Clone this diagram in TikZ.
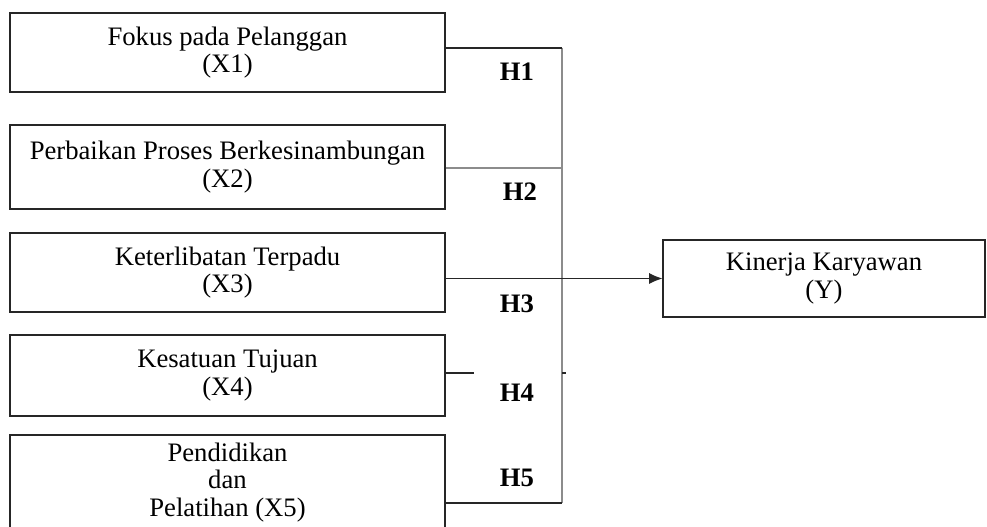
\documentclass[tikz,border=0pt]{standalone}
\usepackage{fontspec}
\setmainfont{Liberation Serif}
\usepackage{tikz}
\usetikzlibrary{positioning,arrows.meta}

\tikzset{
    varbox/.style={draw=black!85, line width=0.5pt, inner sep=0pt, align=center,
        minimum width=195.75pt, font=\fontsize{12}{12.3}\selectfont},
    hlabel/.style={font=\fontsize{12}{12}\selectfont\bfseries, inner sep=0pt},
    link/.style={line width=0.5pt, black!85},
    trunk/.style={line width=1.2pt, black!45}
}

\begin{document}
\begin{tikzpicture}[x=0.45pt, y=-0.45pt]
    \useasboundingbox (0,0) rectangle (987,527);

    % Variables
    \node[varbox, minimum height=35.55pt] (x1) at (227.5,52.5) {Fokus pada Pelanggan\\(X1)};
    \node[varbox, minimum height=37.8pt] (x2) at (227.5,167) {Perbaikan Proses Berkesinambungan\\(X2)};
    \node[varbox, minimum height=35.55pt] (x3) at (227.5,272.5) {Keterlibatan Terpadu\\(X3)};
    \node[varbox, minimum height=36.45pt] (x4) at (227.5,375.5) {Kesatuan Tujuan\\(X4)};
    \node[varbox, minimum height=42.75pt] (x5) at (227.5,482.5) {Pendidikan\\dan\\Pelatihan (X5)};
    \node[varbox, minimum width=144.9pt, minimum height=34.65pt] (y) at (824,278.5) {Kinerja Karyawan\\(Y)};

    % Junctions
    \coordinate (j1) at (562,48);
    \coordinate (j2) at (562,168);
    \coordinate (j4) at (474,373);
    \coordinate (j5) at (562,503);

    % Lines
    \draw[trunk] (j1) -- (j5);
    \draw[link] (x1.east |- j1) -- (j1);
    \draw[trunk, line width=0.8pt] (x2.east |- j2) -- (j2);
    \draw[link, -{Latex[length=6pt, width=5pt]}] (y.west -| x3.east) -- (y.west);
    \draw[link] (x4.east |- j4) -- (j4);
    \draw[link] (562,373) -- (566,373); % tick
    \draw[link] (x5.east |- j5) -- (j5);

    % Hypotheses
    \node[hlabel] (h1) at (517,72) {H1};
    \node[hlabel] (h2) at (520,192) {H2};
    \node[hlabel] (h3) at (517,304) {H3};
    \node[hlabel] (h4) at (517,393) {H4};
    \node[hlabel] (h5) at (517,478) {H5};
\end{tikzpicture}
\end{document}
